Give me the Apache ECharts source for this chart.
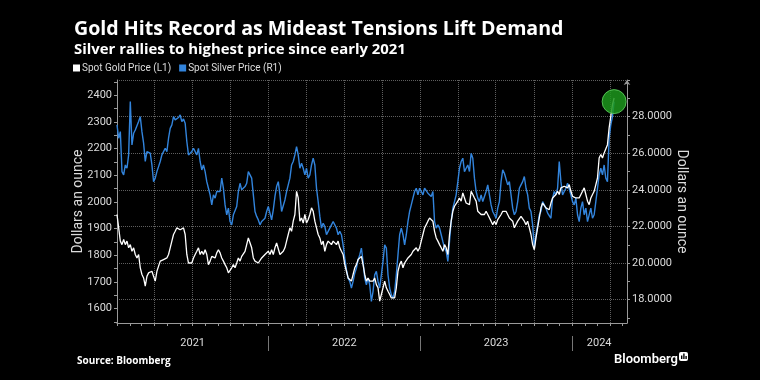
<!DOCTYPE html>
<html><head><meta charset="utf-8">
<script src="https://cdn.jsdelivr.net/npm/echarts@6/dist/echarts.min.js"></script>
<style>html,body{margin:0;padding:0;background:#000;}#c{width:760px;height:380px;}</style>
</head><body><div id="c"></div><script>
const titleText = 'Gold Hits Record as Mideast Tensions Lift Demand';
const subtitleText = 'Silver rallies to highest price since early 2021';
const goldName = 'Spot Gold Price (L1)';
const silverName = 'Spot Silver Price (R1)';

const dates = [
'2021-01-01','2021-01-05','2021-01-09','2021-01-13','2021-01-17','2021-01-21','2021-01-25','2021-01-29',
'2021-02-02','2021-02-06','2021-02-10','2021-02-14','2021-02-18','2021-02-22','2021-02-26',
'2021-03-02','2021-03-06','2021-03-10','2021-03-14','2021-03-18','2021-03-22','2021-03-26','2021-03-30',
'2021-04-03','2021-04-07','2021-04-11','2021-04-15','2021-04-19','2021-04-23','2021-04-27',
'2021-05-01','2021-05-05','2021-05-09','2021-05-13','2021-05-17','2021-05-21','2021-05-25','2021-05-29',
'2021-06-02','2021-06-06','2021-06-10','2021-06-14','2021-06-18','2021-06-22','2021-06-26','2021-06-30',
'2021-07-04','2021-07-08','2021-07-12','2021-07-16','2021-07-20','2021-07-24','2021-07-28',
'2021-08-01','2021-08-05','2021-08-09','2021-08-13','2021-08-17','2021-08-21','2021-08-25','2021-08-29',
'2021-09-02','2021-09-06','2021-09-10','2021-09-14','2021-09-18','2021-09-22','2021-09-26','2021-09-30',
'2021-10-04','2021-10-08','2021-10-12','2021-10-16','2021-10-20','2021-10-24','2021-10-28',
'2021-11-01','2021-11-05','2021-11-09','2021-11-13','2021-11-17','2021-11-21','2021-11-25','2021-11-29',
'2021-12-03','2021-12-07','2021-12-11','2021-12-15','2021-12-19','2021-12-23','2021-12-27','2021-12-31',
'2022-01-04','2022-01-08','2022-01-12','2022-01-16','2022-01-20','2022-01-24','2022-01-28',
'2022-02-01','2022-02-05','2022-02-09','2022-02-13','2022-02-17','2022-02-21','2022-02-25',
'2022-03-01','2022-03-05','2022-03-09','2022-03-13','2022-03-17','2022-03-21','2022-03-25','2022-03-29',
'2022-04-02','2022-04-06','2022-04-10','2022-04-14','2022-04-18','2022-04-22','2022-04-26','2022-04-30',
'2022-05-04','2022-05-08','2022-05-12','2022-05-16','2022-05-20','2022-05-24','2022-05-28',
'2022-06-01','2022-06-05','2022-06-09','2022-06-13','2022-06-17','2022-06-21','2022-06-25','2022-06-29',
'2022-07-03','2022-07-07','2022-07-11','2022-07-15','2022-07-19','2022-07-23','2022-07-27','2022-07-31',
'2022-08-04','2022-08-08','2022-08-12','2022-08-16','2022-08-20','2022-08-24','2022-08-28',
'2022-09-01','2022-09-05','2022-09-09','2022-09-13','2022-09-17','2022-09-21','2022-09-25','2022-09-29',
'2022-10-03','2022-10-07','2022-10-11','2022-10-15','2022-10-19','2022-10-23','2022-10-27','2022-10-31',
'2022-11-04','2022-11-08','2022-11-12','2022-11-16','2022-11-20','2022-11-24','2022-11-28',
'2022-12-02','2022-12-06','2022-12-10','2022-12-14','2022-12-18','2022-12-22','2022-12-26','2022-12-30',
'2023-01-03','2023-01-07','2023-01-11','2023-01-15','2023-01-19','2023-01-23','2023-01-27','2023-01-31',
'2023-02-04','2023-02-08','2023-02-12','2023-02-16','2023-02-20','2023-02-24','2023-02-28',
'2023-03-04','2023-03-08','2023-03-12','2023-03-16','2023-03-20','2023-03-24','2023-03-28',
'2023-04-01','2023-04-05','2023-04-09','2023-04-13','2023-04-17','2023-04-21','2023-04-25','2023-04-29',
'2023-05-03','2023-05-07','2023-05-11','2023-05-15','2023-05-19','2023-05-23','2023-05-27','2023-05-31',
'2023-06-04','2023-06-08','2023-06-12','2023-06-16','2023-06-20','2023-06-24','2023-06-28',
'2023-07-02','2023-07-06','2023-07-10','2023-07-14','2023-07-18','2023-07-22','2023-07-26','2023-07-30',
'2023-08-03','2023-08-07','2023-08-11','2023-08-15','2023-08-19','2023-08-23','2023-08-27','2023-08-31',
'2023-09-04','2023-09-08','2023-09-12','2023-09-16','2023-09-20','2023-09-24','2023-09-28',
'2023-10-02','2023-10-06','2023-10-10','2023-10-14','2023-10-18','2023-10-22','2023-10-26','2023-10-30',
'2023-11-03','2023-11-07','2023-11-11','2023-11-15','2023-11-19','2023-11-23','2023-11-27',
'2023-12-01','2023-12-05','2023-12-09','2023-12-13','2023-12-17','2023-12-21','2023-12-25','2023-12-29',
'2024-01-02','2024-01-06','2024-01-10','2024-01-14','2024-01-18','2024-01-22','2024-01-26','2024-01-30',
'2024-02-03','2024-02-07','2024-02-11','2024-02-15','2024-02-19','2024-02-23','2024-02-27',
'2024-03-02','2024-03-06','2024-03-10','2024-03-14','2024-03-18','2024-03-22','2024-03-26','2024-03-30',
'2024-04-03','2024-04-07','2024-04-11'
];

const gold = [
1953,1903,1853,1840,1859,1840,1853,1828,1840,1815,
1828,1803,1790,1803,1753,1728,1715,1684,1721,1734,
1728,1740,1721,1703,1740,1746,1778,1771,1784,1778,
1790,1803,1828,1853,1878,1890,1903,1909,1896,1890,
1903,1878,1803,1771,1778,1771,1790,1803,1815,1828,
1803,1815,1803,1821,1803,1765,1778,1796,1803,1790,
1809,1821,1809,1790,1778,1765,1753,1734,1728,1753,
1765,1753,1771,1790,1778,1796,1790,1815,1840,1865,
1859,1828,1790,1778,1784,1771,1778,1790,1784,1803,
1796,1815,1803,1821,1803,1828,1846,1840,1803,1796,
1815,1828,1853,1878,1903,1890,1928,1953,2040,2015,
1928,1940,1921,1953,1921,1934,1953,1978,1965,1928,
1903,1878,1865,1840,1853,1815,1840,1853,1859,1840,
1853,1846,1840,1853,1828,1815,1803,1765,1740,1715,
1709,1703,1728,1753,1765,1784,1790,1796,1765,1728,
1703,1715,1703,1709,1703,1715,
1690,1678,1628,1653,1678,1703,1678,1665,1653,1640,
1646,1640,1678,1740,1765,1778,1753,1771,1778,1790,
1796,1803,1815,1809,1828,1815,1828,1853,1878,1903,
1915,1928,1940,1946,1928,1890,1865,1853,1840,1828,
1815,1840,1828,1803,1878,1928,1965,1984,1990,2003,
2015,2003,2034,2015,1996,2003,1990,2040,2028,2015,
2003,1965,1965,1953,1959,1953,1965,1953,1946,1928,
1915,1928,1915,1934,1940,1953,1965,1971,1965,1959,
1940,1940,1928,1903,1896,1928,1934,1946,1940,1928,
1915,1928,1903,1878,1840,1821,1865,1903,1940,1978,
1996,1990,1978,1984,1971,1996,2015,2021,2028,2040,
2028,2053,2053,2059,2065,2053,2065,2040,2021,2028,
2015,2021,2015,2021,2040,2053,2028,2003,1990,2015,
2028,2040,2040,2090,2165,2178,2165,2184,2178,2215,
2278,2321,2365,2390
];

const silver = [
27.55,26.82,27.18,25.00,24.82,25.36,25.18,25.91,28.82,26.45,
27.09,27.27,27.18,27.73,28.00,27.18,26.55,25.55,26.09,26.18,
26.00,25.36,24.45,24.64,25.00,25.27,25.55,25.91,26.09,26.27,
26.09,26.82,27.36,27.55,28.00,27.82,27.82,27.95,28.09,27.73,
27.87,27.64,26.64,25.91,25.91,26.09,26.27,26.18,25.91,26.27,
25.55,25.09,25.36,25.00,24.45,24.09,23.73,23.18,23.73,23.55,
23.91,24.00,23.91,24.64,24.09,23.18,22.64,23.00,22.27,22.09,
22.64,22.73,23.09,23.91,24.36,24.00,23.91,24.18,24.36,25.00,
25.09,24.64,23.73,22.82,22.55,22.36,22.09,22.27,22.36,22.45,
22.82,23.09,23.18,22.36,22.91,23.64,24.18,24.45,23.73,22.82,
22.73,23.45,23.91,24.27,24.64,25.36,25.55,25.91,26.36,25.91,
25.18,25.45,25.18,24.82,25.18,24.64,24.82,25.36,25.73,25.36,
24.09,23.36,22.55,21.91,22.18,22.00,21.55,21.73,21.91,22.09,
22.27,22.18,21.91,21.55,21.73,21.55,21.00,20.27,19.64,19.18,
19.00,18.64,19.00,19.45,19.73,20.18,20.45,20.82,20.09,19.18,
18.82,19.18,18.82,17.91,18.45,19.36,
19.55,19.00,18.64,19.36,20.09,21.00,20.82,19.36,18.64,18.27,
18.09,18.45,19.36,20.45,21.55,21.91,21.55,21.00,21.55,22.27,
22.82,23.18,23.55,23.91,24.09,23.73,24.09,23.91,23.73,24.09,
24.18,23.82,23.91,23.64,23.91,22.27,21.91,22.09,21.91,21.55,
21.18,20.82,20.64,20.09,21.18,22.27,23.00,23.36,23.73,24.45,
25.18,25.55,25.73,25.00,25.18,25.36,25.00,26.00,25.73,24.64,
23.91,23.55,23.36,23.73,23.36,23.27,23.91,24.27,23.73,23.18,
22.82,22.64,22.45,23.00,23.36,24.45,25.09,24.91,24.82,24.27,
24.45,23.73,23.00,22.64,22.82,23.36,24.09,24.27,24.45,24.73,
24.09,23.73,23.00,22.82,22.09,20.82,21.55,22.09,22.64,22.82,
23.36,23.18,23.00,22.73,22.64,22.45,23.55,23.91,23.73,24.09,
25.55,24.45,23.73,23.91,24.09,24.36,24.27,23.73,23.36,23.18,
23.55,22.64,22.27,23.00,23.36,22.64,23.00,22.27,22.27,23.00,
22.45,22.64,23.36,24.09,24.82,25.18,24.82,25.36,24.64,24.45,
26.82,27.55,28.00,28.82
];

const goldLabels = [1600,1700,1800,1900,2000,2100,2200,2300,2400];
const goldTicks = [1550,1600,1650,1700,1750,1800,1850,1900,1950,2000,2050,2100,2150,2200,2250,2300,2350,2400,2450];
const silverLabels = [18,20,22,24,26,28];
const silverGrid = [18,20,22,24,26,28,30];
const silverMinor = [17,19,21,23,25,27,29];
const yearLabels = ['2021','2022','2023','2024'];
const yearLabelAt = ['2021-07-02','2022-07-02','2023-07-02','2024-03-06'];
const yearStarts = ['2022-01-01','2023-01-01','2024-01-01'];
const xMin = '2021-01-01', xMax = '2024-05-12';

const ts = s => { const p = s.split('-').map(Number); return new Date(p[0], p[1]-1, p[2]).getTime(); };
const monthTicks = [], quarterTicks = [];
for (let y = 2021; y <= 2024; y++) for (let m = 0; m < 12; m++) {
  const t = new Date(y, m, 1).getTime();
  if (t > ts(xMax)) continue;
  monthTicks.push(t);
  if (m % 3 === 0) quarterTicks.push(t);
}
const yearLabelTs = yearLabelAt.map(ts);

const axisCol = '#9a9a9a', gridCol = '#5e5e5e', txtCol = '#dcdcdc';
const FONT = 'Roboto';
const HFONT = 'Open Sans';
const n = Math.min(dates.length, gold.length, silver.length);
const goldData = [], silverData = [];
for (let i = 0; i < n; i++) { goldData.push([ts(dates[i]), gold[i]]); silverData.push([ts(dates[i]), silver[i]]); }

const xBase = {type: 'value', min: ts(xMin), max: ts(xMax), position: 'bottom', scale: true};

const chart = echarts.init(document.getElementById('c'), null, {renderer: 'canvas'});
chart.setOption({
  backgroundColor: '#000',
  animation: false,
  textStyle: {fontFamily: FONT},
  title: [
    {text: titleText, left: 69, top: 14, textStyle: {color: '#fff', fontSize: 19.6, fontWeight: 'bold', fontFamily: HFONT}},
    {text: subtitleText, left: 69, top: 37, textStyle: {color: '#fff', fontSize: 14.9, fontWeight: 'bold', fontFamily: HFONT}},
    {text: 'Source: Bloomberg', left: 72, top: 351, textStyle: {color: '#fff', fontSize: 10, fontWeight: 'bold', fontFamily: HFONT}},
    {text: 'Bloomberg', left: 609, top: 348, textStyle: {color: '#fff', fontSize: 13, fontWeight: 600, fontFamily: FONT}}
  ],
  graphic: [
    {type: 'rect', left: 679, top: 352, shape: {width: 9, height: 9, r: 2}, style: {fill: '#fff'}},
    {type: 'rect', left: 681, top: 355.5, shape: {width: 1.4, height: 3.5}, style: {fill: '#000'}},
    {type: 'rect', left: 683.2, top: 353.5, shape: {width: 1.4, height: 5.5}, style: {fill: '#000'}},
    {type: 'rect', left: 685.4, top: 356, shape: {width: 1.4, height: 3}, style: {fill: '#000'}}
  ],
  legend: {
    data: [goldName, silverName], left: 73, top: 63, padding: 0,
    icon: 'rect', itemWidth: 7, itemHeight: 7, itemGap: 8,
    textStyle: {color: txtCol, fontSize: 10, fontFamily: FONT, padding: [0, 0, 0, -3]}
  },
  grid: {left: 117, right: 133, top: 80, bottom: 57, containLabel: false, outerBoundsMode: 'none'},
  xAxis: [
    Object.assign({}, xBase, {
     axisLine: {show: true, lineStyle: {color: axisCol}},
     axisTick: {show: true, customValues: monthTicks, length: 3, lineStyle: {color: axisCol}},
     axisLabel: {show: false}, splitLine: {show: false}}),
    Object.assign({}, xBase, {
     axisLine: {show: false},
     axisTick: {show: false, customValues: quarterTicks},
     splitLine: {show: true, lineStyle: {type: 'dotted', color: gridCol, width: 1}},
     axisLabel: {show: true, customValues: yearLabelTs, margin: 15, color: txtCol, fontSize: 11, fontFamily: FONT,
       formatter: v => { const i = yearLabelTs.indexOf(v); return i >= 0 ? yearLabels[i] : ''; }}}),
    Object.assign({}, xBase, {offset: 13,
     axisLine: {show: false},
     axisTick: {show: true, customValues: yearStarts.map(ts), length: 15, lineStyle: {color: '#777'}},
     axisLabel: {show: false}, splitLine: {show: false}})
  ],
  yAxis: [
    {type: 'value', position: 'left', min: 1546, max: 2457.5,
     axisLine: {show: true, lineStyle: {color: axisCol}},
     axisTick: {show: true, customValues: goldTicks, length: 3, lineStyle: {color: axisCol}},
     axisLabel: {customValues: goldLabels, color: txtCol, fontSize: 11, margin: 5, fontFamily: FONT,
       formatter: v => String(v)},
     splitLine: {show: false},
     name: 'Dollars an ounce', nameLocation: 'middle', nameGap: 32, nameMoveOverlap: false,
     nameTextStyle: {color: txtCol, fontSize: 14, fontFamily: FONT}},
    {type: 'value', position: 'right', min: 16.73, max: 30,
     axisLine: {show: true, symbol: ['none', 'arrow'], symbolSize: [5, 5], lineStyle: {color: axisCol}},
     axisTick: {show: true, customValues: silverGrid, length: 3, lineStyle: {color: axisCol}},
     axisLabel: {customValues: silverLabels, color: txtCol, fontSize: 11, margin: 5, fontFamily: FONT,
       formatter: v => Number(v).toFixed(4)},
     splitLine: {show: true, lineStyle: {type: 'dotted', color: gridCol, width: 1}},
     name: 'Dollars an ounce', nameLocation: 'middle', nameGap: 47, nameRotate: -90, nameMoveOverlap: false,
     nameTextStyle: {color: txtCol, fontSize: 14, fontFamily: FONT}},
    {type: 'value', position: 'right', min: 16.73, max: 30,
     axisLine: {show: false},
     axisTick: {show: true, customValues: silverMinor, length: 3, lineStyle: {color: axisCol}},
     axisLabel: {show: false}, splitLine: {show: false}}
  ],
  series: [
    {name: silverName, type: 'line', xAxisIndex: 0, yAxisIndex: 1, data: silverData,
     symbol: 'none', showSymbol: false, lineStyle: {color: '#3284dc', width: 1.4}, itemStyle: {color: '#3284dc'},
     markPoint: {z: 10, symbol: 'circle', symbolSize: 24, silent: true, label: {show: false},
       itemStyle: {color: 'rgba(28,150,28,0.85)', borderColor: 'rgba(90,200,90,0.9)', borderWidth: 1},
       data: [{coord: [ts(dates[n-1]), silver[n-1]]}]}},
    {name: goldName, type: 'line', xAxisIndex: 0, yAxisIndex: 0, data: goldData,
     symbol: 'none', showSymbol: false, lineStyle: {color: '#ffffff', width: 1.3}, itemStyle: {color: '#ffffff'}}
  ]
});
</script></body></html>
